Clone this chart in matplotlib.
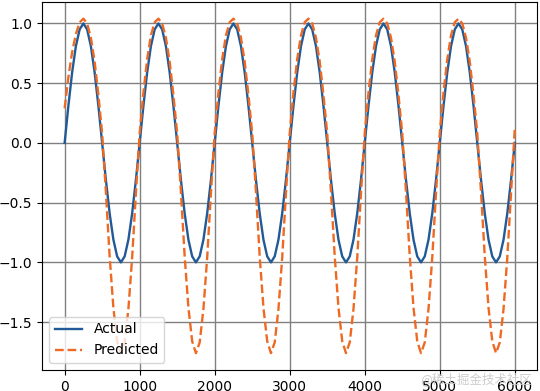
import numpy as np
import matplotlib
matplotlib.use("Agg")
import matplotlib.pyplot as plt

# time index (sampled every 50 steps)
x_values = np.arange(0, 6001, 50)

actual = [
    0.00, 0.31, 0.59, 0.81, 0.95, 1.00, 0.95, 0.81, 0.59, 0.31, 0.00, -0.31, -0.59, -0.81, -0.95, -1.00, -0.95, -0.81, -0.59, -0.31,
    0.00, 0.31, 0.59, 0.81, 0.95, 1.00, 0.95, 0.81, 0.59, 0.31, 0.00, -0.31, -0.59, -0.81, -0.95, -1.00, -0.95, -0.81, -0.59, -0.31,
    0.00, 0.31, 0.59, 0.81, 0.95, 1.00, 0.95, 0.81, 0.59, 0.31, 0.00, -0.31, -0.59, -0.81, -0.95, -1.00, -0.95, -0.81, -0.59, -0.31,
    0.00, 0.31, 0.59, 0.81, 0.95, 1.00, 0.95, 0.81, 0.59, 0.31, 0.00, -0.31, -0.59, -0.81, -0.95, -1.00, -0.95, -0.81, -0.59, -0.31,
    0.00, 0.31, 0.59, 0.81, 0.95, 1.00, 0.95, 0.81, 0.59, 0.31, 0.00, -0.31, -0.59, -0.81, -0.95, -1.00, -0.95, -0.81, -0.59, -0.31,
    0.00, 0.31, 0.59, 0.81, 0.95, 1.00, 0.95, 0.81, 0.59, 0.31, 0.00, -0.31, -0.59, -0.81, -0.95, -1.00, -0.95, -0.81, -0.59, -0.31,
    0.00,
]

predicted = [
    0.29, 0.55, 0.76, 0.91, 1.01, 1.04, 1.00, 0.88, 0.68, 0.40, 0.08, -0.41, -0.95, -1.38, -1.66, -1.76, -1.67, -1.39, -0.96, -0.42,
    0.08, 0.42, 0.70, 0.90, 1.01, 1.04, 1.00, 0.88, 0.68, 0.40, 0.08, -0.41, -0.95, -1.38, -1.66, -1.76, -1.67, -1.39, -0.96, -0.42,
    0.08, 0.42, 0.70, 0.90, 1.01, 1.04, 1.00, 0.88, 0.68, 0.40, 0.08, -0.41, -0.95, -1.38, -1.66, -1.76, -1.67, -1.39, -0.96, -0.42,
    0.08, 0.42, 0.70, 0.90, 1.01, 1.04, 1.00, 0.88, 0.68, 0.40, 0.08, -0.41, -0.95, -1.38, -1.66, -1.76, -1.67, -1.39, -0.96, -0.42,
    0.08, 0.42, 0.70, 0.90, 1.01, 1.04, 1.00, 0.88, 0.68, 0.40, 0.08, -0.41, -0.95, -1.38, -1.66, -1.76, -1.67, -1.39, -0.96, -0.42,
    0.08, 0.42, 0.70, 0.90, 1.01, 1.04, 1.00, 0.88, 0.68, 0.40, 0.08, -0.41, -0.95, -1.38, -1.66, -1.76, -1.67, -1.39, -0.96, -0.42,
    0.12,
]

series_labels = ["Actual", "Predicted"]

fig = plt.figure(figsize=(5.40, 3.91), dpi=100)
ax = fig.add_axes([0.078, 0.054, 0.917, 0.941])

ax.plot(x_values, actual, color="#215a96", linewidth=1.7, label=series_labels[0], zorder=3)
ax.plot(x_values, predicted, color="#ee6a24", linewidth=1.7, linestyle="--", label=series_labels[1], zorder=3)

ax.set_xticks([0, 1000, 2000, 3000, 4000, 5000, 6000])
ax.set_yticks([-1.5, -1.0, -0.5, 0.0, 0.5, 1.0])
ax.grid(True, color="#808080", linewidth=1.0)
ax.set_axisbelow(True)
ax.tick_params(labelsize=10)

ax.legend(loc="lower left", fontsize=10, framealpha=0.8)

fig.text(0.985, 0.012, "@稀土掘金技术社区", ha="right", va="bottom", fontsize=9,
         color="#c8c8c8", family=["Noto Sans CJK SC", "DejaVu Sans"], alpha=0.9)

fig.savefig("out.png", dpi=100)
